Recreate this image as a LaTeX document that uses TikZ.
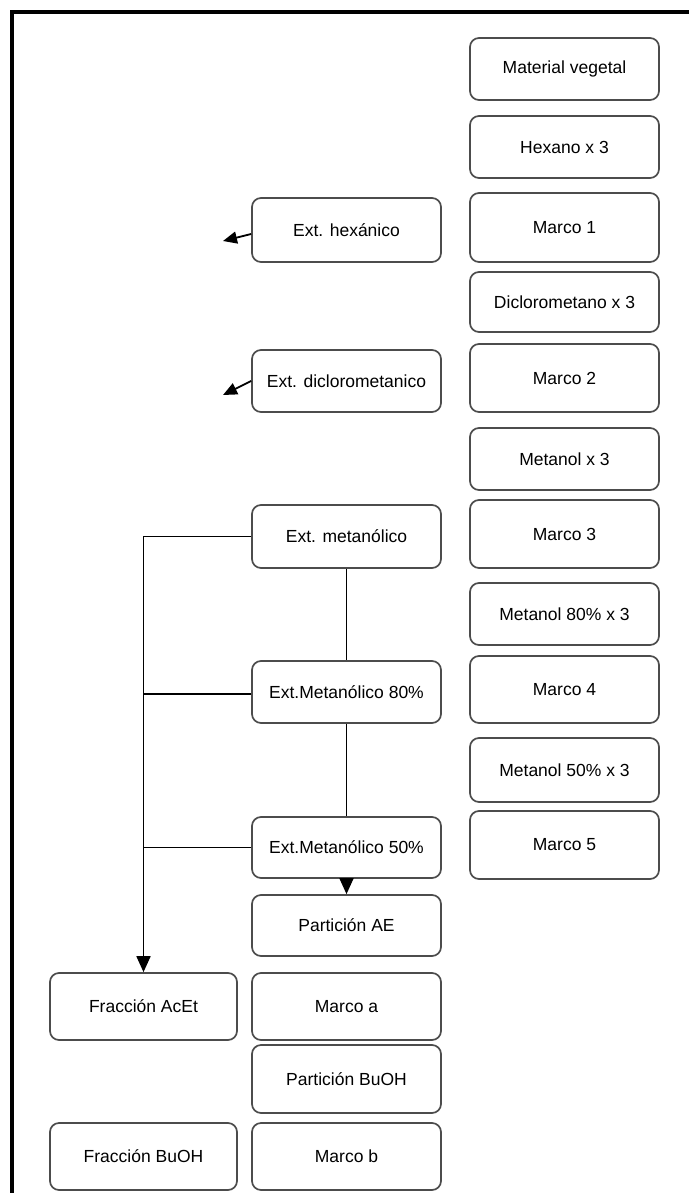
\documentclass[tikz,border=0pt]{standalone}
\usepackage{fontspec}
\setmainfont{Liberation Sans}
\usetikzlibrary{arrows.meta}
\begin{document}
\begin{tikzpicture}[x=1pt,y=-1pt,
  box/.style={draw=black!70, line width=1.7pt, rounded corners=9pt, inner sep=0pt,
    minimum width=189pt, font=\fontsize{17.5}{20}\selectfont},
  conn/.style={draw=black, line width=1.8pt},
  bigtip/.style={-{Triangle[length=16pt,width=14pt]}},
  smalltip/.style={-{Triangle[length=14pt,width=12pt]}}]
\useasboundingbox (0,0) rectangle (689,1193);
\fill[white] (0,0) rectangle (689,1193);
% frame
\draw[line width=3.5pt] (12,1193) -- (12,12) -- (689,12);
% right column
\node[box, minimum height=62pt] (mv)  at (564.5,69)    {Material vegetal};
\node[box, minimum height=62pt] (hex) at (564.5,147)   {Hexano x 3};
\node[box, minimum height=69pt] (m1)  at (564.5,227.5) {Marco 1};
\node[box, minimum height=60pt] (dcm) at (564.5,302)   {Diclorometano x 3};
\node[box, minimum height=68pt] (m2)  at (564.5,378)   {Marco 2};
\node[box, minimum height=62pt] (met) at (564.5,459)   {Metanol x 3};
\node[box, minimum height=68pt] (m3)  at (564.5,534)   {Marco 3};
\node[box, minimum height=62pt] (m80) at (564.5,614)   {Metanol 80\% x 3};
\node[box, minimum height=67pt] (m4)  at (564.5,689.5) {Marco 4};
\node[box, minimum height=64pt] (m50) at (564.5,770)   {Metanol 50\% x 3};
\node[box, minimum height=68pt] (m5)  at (564.5,845)   {Marco 5};
% middle column
\node[box, minimum height=64pt] (eh)  at (346.5,230)   {Ext. hexánico};
\node[box, minimum height=62pt] (ed)  at (346.5,381)   {Ext. diclorometanico};
\node[box, minimum height=63pt] (em)  at (346.5,536.5) {Ext. metanólico};
\node[box, minimum height=62pt] (e80) at (346.5,692)   {Ext.Metanólico 80\%};
\node[box, minimum height=61pt] (e50) at (346.5,847.5) {Ext.Metanólico 50\%};
\node[box, minimum height=61pt] (pae) at (346.5,925.5) {Partición AE};
\node[box, minimum height=67pt] (ma)  at (346.5,1006.5){Marco a};
\node[box, minimum height=68pt] (pb)  at (346.5,1079)  {Partición BuOH};
\node[box, minimum height=67pt] (mb)  at (346.5,1156.5){Marco b};
% left column
\node[box, minimum width=187pt, minimum height=67pt] (fa) at (143.5,1006.5) {Fracción AcEt};
\node[box, minimum width=187pt, minimum height=67pt] (fb) at (143.5,1156.5) {Fracción BuOH};
% free ends
\coordinate (a1) at (223,241);
\coordinate (a2) at (223,395);
% connectors
\draw[conn, smalltip] ([yshift=-4pt]eh.west) -- (a1);
\draw[conn, smalltip] (ed.west) -- (a2);
\draw[conn, bigtip] (em.west) -| (fa.north);
\draw[conn] (em.south) -- (e80.north);
\draw[conn] (e80.south) -- (e50.north);
\draw[conn] ([yshift=-2pt]e80.west) -- ([yshift=-2pt]e80.west -| fa.north);
\draw[conn] (e50.west) -- (e50.west -| fa.north);
\draw[conn, bigtip] (e50.south) -- (pae.north);
\end{tikzpicture}
\end{document}
